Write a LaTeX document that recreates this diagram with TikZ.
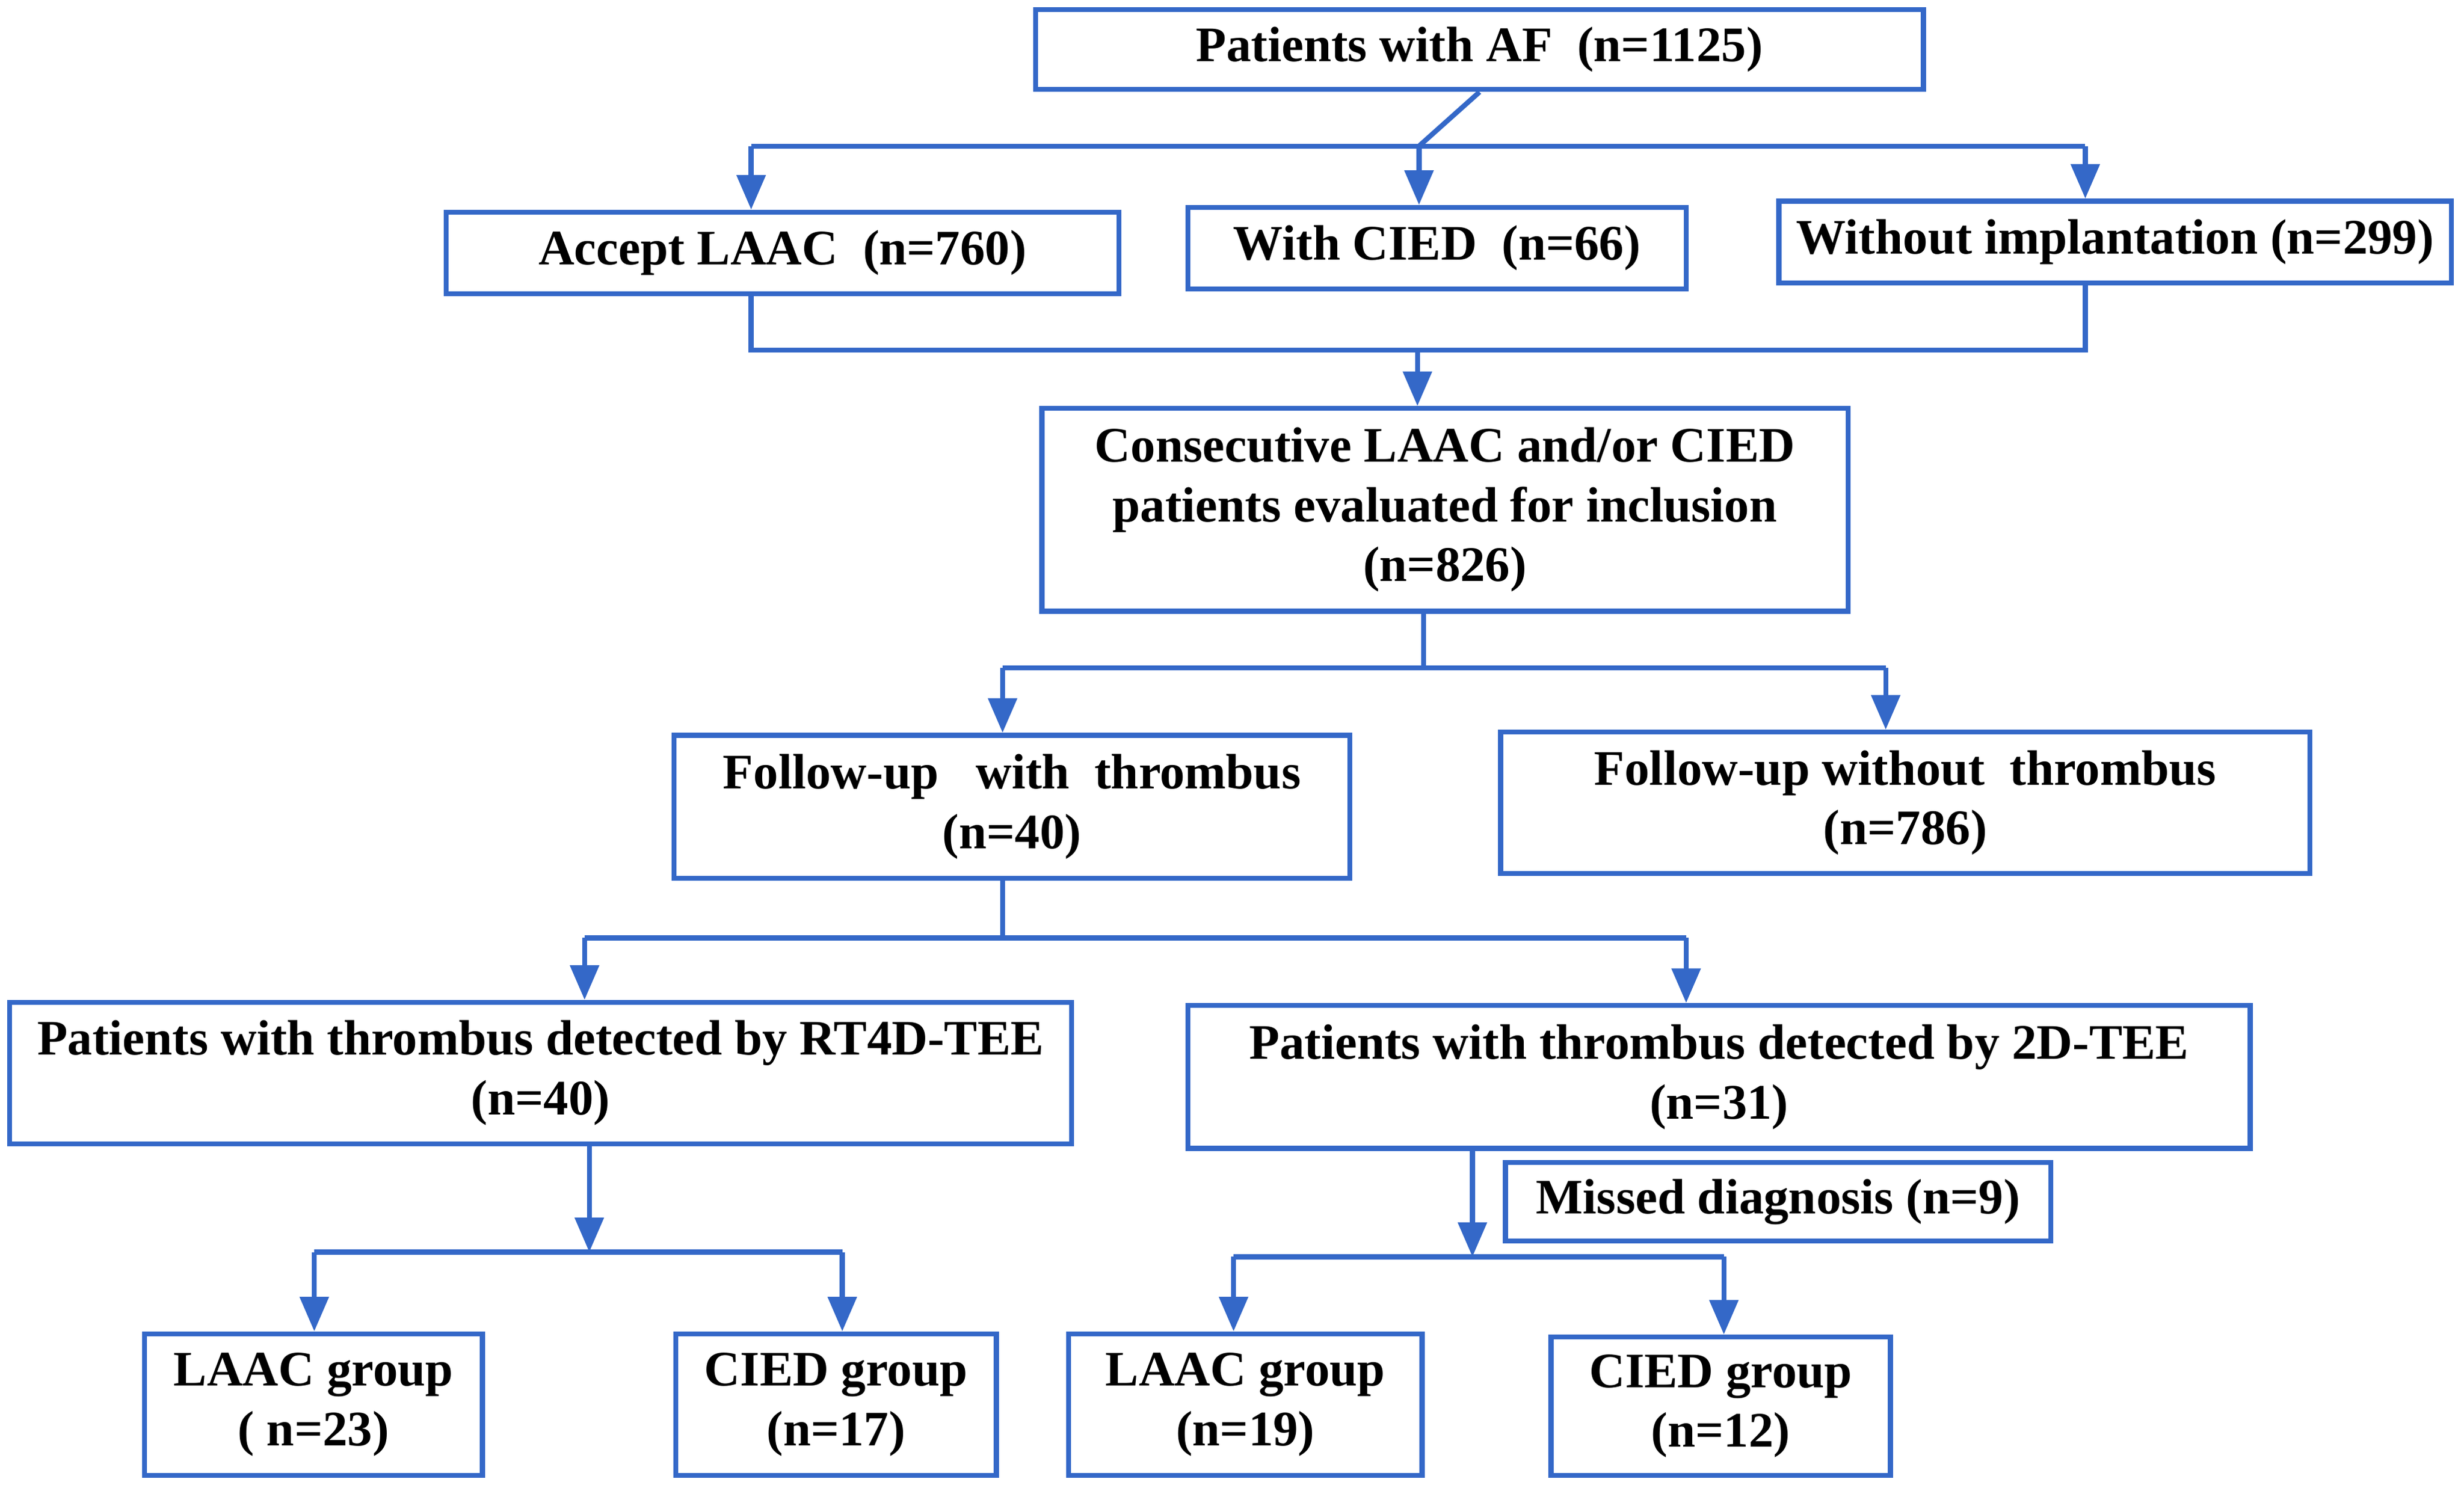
\documentclass[tikz,border=0pt]{standalone}
\usepackage{fontspec}
\setmainfont{Liberation Serif}
\usetikzlibrary{arrows.meta}
\definecolor{bl}{RGB}{52,104,200}
\begin{document}
\begin{tikzpicture}[x=0.1mm,y=-0.1mm,
  box/.style={draw=bl,line width=0.9pt,inner sep=0pt,align=center,font=\fontsize{9}{10.8}\selectfont\bfseries},
  ln/.style={draw=bl,line width=0.9pt},
  ar/.style={ln,-{Triangle[length=2.2mm,width=1.8mm]}}]
\useasboundingbox (0,0) rectangle (1568,947);
\newcommand{\bx}[6]{\node[box,minimum width={(#4-#2)*0.1mm},minimum height={(#5-#3)*0.1mm}] (#1) at ({(#2+#4)/2},{(#3+#5)/2}) {#6};}
\bx{A}{659}{6}{1224}{57}{Patients with AF\ \ (n=1125)}
\bx{B1}{284}{135}{712}{187}{Accept LAAC\ \ (n=760)}
\bx{B2}{756}{132}{1073}{184}{With CIED\ \ (n=66)}
\bx{B3}{1132}{128}{1560}{180}{Without implantation (n=299)}
\bx{C}{663}{260}{1176}{389}{Consecutive LAAC and/or CIED\\patients evaluated for inclusion\\(n=826)}
\bx{D1}{429}{468}{859}{559}{Follow-up\ \ \ with\ \ thrombus\\(n=40)}
\bx{D2}{955}{466}{1470}{556}{Follow-up without\ \ thrombus\\(n=786)}
\bx{E1}{6}{638}{682}{728}{Patients with thrombus\ detected by\ RT4D-TEE\\(n=40)}
\bx{E2}{756}{640}{1432}{731}{Patients with thrombus\ detected by 2D-TEE\\(n=31)}
\bx{M}{958}{740}{1305}{790}{Missed diagnosis (n=9)}
\bx{F1}{92}{849}{307}{939}{LAAC group\\( n=23)}
\bx{F2}{430}{849}{634}{939}{CIED group\\(n=17)}
\bx{F3}{680}{849}{905}{939}{LAAC group\\(n=19)}
\bx{F4}{987}{851}{1203}{939}{CIED group\\(n=12)}
% level 1
\coordinate (j1) at (903,93);
\coordinate (j1l) at (478,93);
\coordinate (j1r) at (1327,93);
\draw[ln] (A.south) -- (j1);
\draw[ln] (j1l) -- (j1r);
\draw[ar] (j1l) -- (B1.north -| j1l);
\draw[ar] (j1) -- (B2.north -| j1);
\draw[ar] (j1r) -- (B3.north -| j1r);
% join
\coordinate (k1l) at (478,223);
\coordinate (k1r) at (1327,223);
\coordinate (k1) at (902,223);
\draw[ln] (B1.south -| k1l) -- (k1l) -- (k1r) -- (B3.south -| k1r);
\draw[ar] (k1) -- (C.north -| k1);
% C to D
\coordinate (j2) at (906,425);
\coordinate (j2l) at (638,425);
\coordinate (j2r) at (1200,425);
\draw[ln] (C.south -| j2) -- (j2);
\draw[ln] (j2l) -- (j2r);
\draw[ar] (j2l) -- (D1.north -| j2l);
\draw[ar] (j2r) -- (D2.north -| j2r);
% D1 to E
\coordinate (j3) at (638,597);
\coordinate (j3l) at (372,597);
\coordinate (j3r) at (1073,597);
\draw[ln] (D1.south -| j3) -- (j3);
\draw[ln] (j3l) -- (j3r);
\draw[ar] (j3l) -- (E1.north -| j3l);
\draw[ar] (j3r) -- (E2.north -| j3r);
% E1 to F
\coordinate (j4) at (375,797);
\coordinate (j4l) at (200,797);
\coordinate (j4r) at (536,797);
\draw[ar] (E1.south -| j4) -- (j4);
\draw[ln] (j4l) -- (j4r);
\draw[ar] (j4l) -- (F1.north -| j4l);
\draw[ar] (j4r) -- (F2.north -| j4r);
% E2 to F
\coordinate (j5) at (937,800);
\coordinate (j5l) at (785,800);
\coordinate (j5r) at (1097,800);
\draw[ar] (E2.south -| j5) -- (j5);
\draw[ln] (j5l) -- (j5r);
\draw[ar] (j5l) -- (F3.north -| j5l);
\draw[ar] (j5r) -- (F4.north -| j5r);
\end{tikzpicture}
\end{document}
